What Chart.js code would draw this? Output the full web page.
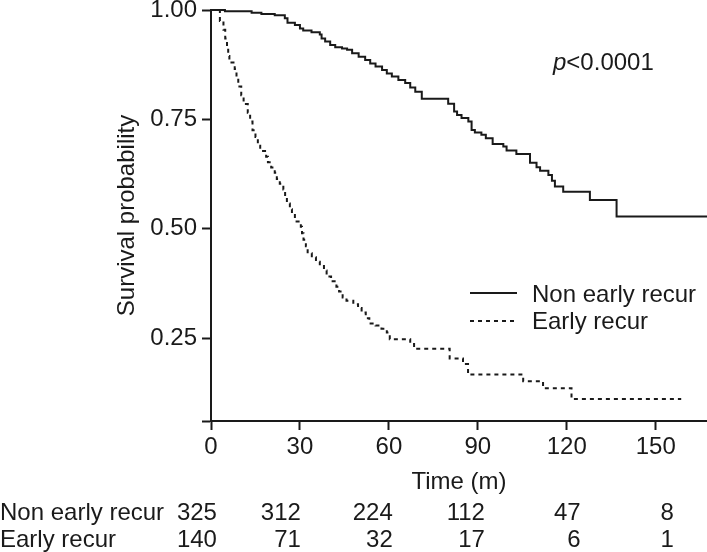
<!DOCTYPE html>
<html>
<head>
<meta charset="utf-8">
<script src="https://cdn.jsdelivr.net/npm/chart.js@4.4.1/dist/chart.umd.min.js"></script>
<style>
  html, body { margin: 0; padding: 0; background: #ffffff; }
  #c { display: block; }
</style>
</head>
<body>
<canvas id="c" width="707" height="552"></canvas>
<script>
// ---------- DATA ----------
const seriesNames = ['Non early recur', 'Early recur'];

const nonTimes = [0, 4.7, 13.7, 17, 21.5, 24.9, 25.8, 28.3, 30, 31.1, 33.9, 36.7, 37.3, 38.5, 40.2, 41.9, 44.2, 45.9, 47.6, 49.8, 52, 53.7, 55.5, 57.7, 59.3, 61, 63.2, 65.5, 67.2, 68.9, 71.1, 80, 82, 83, 84.5, 86.8, 87.9, 89, 91.2, 92.7, 95, 98.6, 99.7, 103, 107.6, 109.8, 111, 113.8, 115, 116, 118.8, 127.8, 136.8, 167.3];
const nonSurv  = [1.0, 0.997, 0.994, 0.991, 0.988, 0.981, 0.971, 0.966, 0.958, 0.953, 0.949, 0.944, 0.935, 0.928, 0.920, 0.915, 0.912, 0.909, 0.901, 0.893, 0.886, 0.878, 0.871, 0.863, 0.855, 0.848, 0.840, 0.833, 0.823, 0.813, 0.797, 0.786, 0.768, 0.760, 0.753, 0.745, 0.726, 0.720, 0.715, 0.707, 0.694, 0.688, 0.679, 0.671, 0.651, 0.641, 0.633, 0.623, 0.610, 0.597, 0.585, 0.566, 0.528, 0.528];

const earlyTimes = [0, 3.0, 4.2, 4.8, 5.4, 5.8, 6.2, 8.0, 8.6, 9.2, 10.2, 11.0, 12.4, 13.2, 14.0, 15.0, 15.8, 16.6, 18.6, 19.2, 20.3, 21.5, 22.2, 23.2, 24.4, 25.0, 25.6, 26.6, 27.3, 28.3, 30.3, 30.7, 31.2, 32.0, 32.6, 34.0, 35.4, 36.7, 38.1, 39.0, 40.5, 42.3, 43.2, 44.4, 45.7, 48.0, 49.6, 50.8, 52.2, 53.4, 55.5, 57.5, 59.3, 60.3, 67.2, 68.5, 80.5, 85.0, 86.7, 105.3, 112.0, 121.6, 158.6];
const earlySurv  = [1.0, 0.975, 0.955, 0.935, 0.915, 0.895, 0.880, 0.865, 0.848, 0.825, 0.805, 0.785, 0.765, 0.745, 0.725, 0.710, 0.690, 0.678, 0.665, 0.652, 0.640, 0.628, 0.614, 0.603, 0.590, 0.575, 0.558, 0.545, 0.534, 0.517, 0.505, 0.490, 0.475, 0.460, 0.444, 0.435, 0.425, 0.415, 0.405, 0.391, 0.380, 0.368, 0.357, 0.343, 0.336, 0.328, 0.319, 0.309, 0.296, 0.284, 0.279, 0.272, 0.263, 0.248, 0.237, 0.226, 0.204, 0.191, 0.167, 0.152, 0.136, 0.111, 0.111];

const xTickValues = [0, 30, 60, 90, 120, 150];
const yTickValues = [0.25, 0.50, 0.75, 1.00];
const riskTimes   = [0, 30, 60, 90, 120, 150];
const riskNon     = [325, 312, 224, 112, 47, 8];
const riskEarly   = [140, 71, 32, 17, 6, 1];
const pValueText  = '<0.0001';
const xTitle = 'Time (m)';
const yTitle = 'Survival probability';

// ---------- STYLE ----------
const INK = '#1a1a1a';
const FONT = '"Liberation Sans", Arial, Helvetica, sans-serif';
const FS = 24;
Chart.defaults.font.family = FONT;
Chart.defaults.font.size = FS;
Chart.defaults.color = INK;

const X_MIN = 0, X_MAX = 167.3, Y_MIN = 0.061, Y_MAX = 1.0;

const toXY = (ts, ss) => ts.map((t, i) => ({ x: t, y: ss[i] }));

// overlay: legend, p-value, number-at-risk table
const overlay = {
  id: 'overlay',
  afterDraw(chart) {
    const ctx = chart.ctx;
    const xs = chart.scales.x;
    const ds = chart.data.datasets;
    ctx.save();
    ctx.fillStyle = INK;
    ctx.font = FS + 'px ' + FONT;

    // legend
    const legX1 = 470, legX2 = 517, legTextX = 532;
    const legLineY = [293, 321], legBase = [301.5, 329];
    ds.forEach((d, i) => {
      ctx.save();
      ctx.strokeStyle = d.borderColor;
      ctx.lineWidth = d.borderWidth;
      ctx.setLineDash(d.borderDash || []);
      ctx.beginPath();
      ctx.moveTo(legX1, legLineY[i]);
      ctx.lineTo(legX2, legLineY[i]);
      ctx.stroke();
      ctx.restore();
      ctx.textAlign = 'left';
      ctx.textBaseline = 'alphabetic';
      ctx.fillText(d.label, legTextX, legBase[i]);
    });

    // p-value
    ctx.textAlign = 'left';
    ctx.textBaseline = 'alphabetic';
    const px = 553, pb = 70;
    ctx.font = 'italic ' + FS + 'px ' + FONT;
    ctx.fillText('p', px, pb);
    const pw = ctx.measureText('p').width;
    ctx.font = FS + 'px ' + FONT;
    ctx.fillText(pValueText, px + pw, pb);

    // number at risk table
    const colRightT = [2, 30.3, 61.3, 92.4, 124.7, 156.1];
    const rowBase = [519.5, 546.5];
    const rows = [riskNon, riskEarly];
    rows.forEach((vals, r) => {
      ctx.textAlign = 'left';
      ctx.fillText(seriesNames[r], 0, rowBase[r]);
      ctx.textAlign = 'right';
      vals.forEach((v, i) => {
        ctx.fillText(String(v), xs.getPixelForValue(colRightT[i]), rowBase[r]);
      });
    });
    ctx.restore();
  }
};

new Chart(document.getElementById('c'), {
  type: 'line',
  data: {
    datasets: [
      {
        label: seriesNames[0],
        data: toXY(nonTimes, nonSurv),
        borderColor: INK, borderWidth: 2, stepped: true,
        pointRadius: 0, fill: false, clip: 6
      },
      {
        label: seriesNames[1],
        data: toXY(earlyTimes, earlySurv),
        borderColor: INK, borderWidth: 2, borderDash: [4, 4], stepped: true,
        pointRadius: 0, fill: false, clip: 6
      }
    ]
  },
  options: {
    responsive: false,
    animation: false,
    events: [],
    layout: { padding: { top: 10, left: 0, right: 0, bottom: 0 } },
    plugins: { legend: { display: false }, tooltip: { enabled: false } },
    scales: {
      x: {
        type: 'linear', min: X_MIN, max: X_MAX,
        afterBuildTicks: s => { s.ticks = xTickValues.map(v => ({ value: v })); },
        ticks: { autoSkip: false, maxRotation: 0, padding: 3, color: INK, font: { size: FS } },
        grid: { drawOnChartArea: false, drawTicks: true, tickLength: 9, tickWidth: 2, tickColor: INK, color: INK },
        border: { display: true, color: INK, width: 2 },
        title: { display: true, text: xTitle, color: INK, font: { size: FS }, padding: { top: 0, bottom: 55 } },
        afterFit: s => { s.height = 131; s.paddingLeft = 0; s.paddingRight = 0; }
      },
      y: {
        type: 'linear', min: Y_MIN, max: Y_MAX,
        afterBuildTicks: s => { s.ticks = [Y_MIN].concat(yTickValues).map(v => ({ value: v })); },
        ticks: { autoSkip: false, padding: 5, color: INK, font: { size: FS },
                 callback: v => (v < 0.2 ? '' : Number(v).toFixed(2)) },
        grid: { drawOnChartArea: false, drawTicks: true, tickLength: 9, tickWidth: 2, tickColor: INK, color: INK },
        border: { display: true, color: INK, width: 2 },
        title: { display: true, text: yTitle, color: INK, font: { size: FS }, padding: { top: 112.6, bottom: 0 } },
        afterFit: s => { s.width = 211; s.paddingTop = 0; s.paddingBottom = 0; }
      }
    }
  },
  plugins: [overlay]
});
</script>
</body>
</html>
